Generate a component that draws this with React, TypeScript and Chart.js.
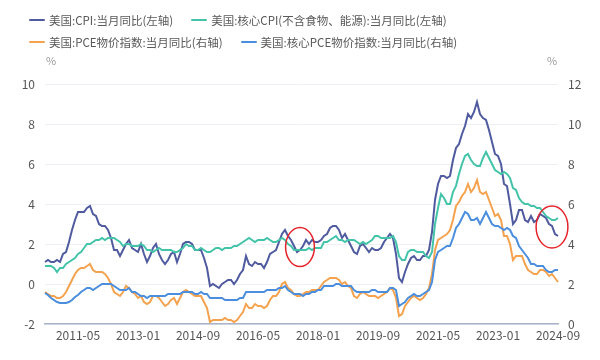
import React, { useEffect, useRef } from "react";
import { Chart, registerables } from "chart.js";

Chart.register(...registerables);

// ---------- data ----------
const START_YEAR = 2010;
const START_MONTH = 6; // 2010-06
const N_MONTHS = 172; // through 2024-09

const months: string[] = [];
for (let i = 0; i < N_MONTHS; i++) {
  const m = START_MONTH - 1 + i;
  const y = START_YEAR + Math.floor(m / 12);
  const mm = (m % 12) + 1;
  months.push(`${y}-${mm < 10 ? "0" + mm : mm}`);
}

const xTickLabels = ["2011-05", "2013-01", "2014-09", "2016-05", "2018-01", "2019-09", "2021-05", "2023-01", "2024-09"];

// 美国:CPI:当月同比 (left axis)
const cpi = [
  1.1, 1.2, 1.1, 1.1, 1.2, 1.1, 1.5,
  1.6, 2.1, 2.7, 3.2, 3.6, 3.6, 3.6, 3.8, 3.9, 3.5, 3.4, 3.0,
  2.9, 2.9, 2.7, 2.3, 1.7, 1.7, 1.4, 1.7, 2.0, 2.2, 1.8, 1.7,
  1.6, 2.0, 1.5, 1.1, 1.4, 1.8, 2.0, 1.5, 1.2, 1.0, 1.2, 1.5,
  1.6, 1.1, 1.5, 2.0, 2.1, 2.1, 2.0, 1.7, 1.7, 1.7, 1.3, 0.8,
  -0.1, 0.0, -0.1, -0.2, 0.0, 0.1, 0.2, 0.2, 0.0, 0.2, 0.5, 0.7,
  1.4, 1.0, 0.9, 1.1, 1.0, 1.0, 0.8, 1.1, 1.5, 1.6, 1.7, 2.1,
  2.5, 2.7, 2.4, 2.2, 1.9, 1.6, 1.7, 1.9, 2.2, 2.0, 2.2, 2.1,
  2.1, 2.2, 2.4, 2.5, 2.8, 2.9, 2.9, 2.7, 2.3, 2.5, 2.2, 1.9,
  1.6, 1.5, 1.9, 2.0, 1.8, 1.6, 1.8, 1.7, 1.7, 1.8, 2.1, 2.3,
  2.5, 2.3, 1.5, 0.3, 0.1, 0.6, 1.0, 1.3, 1.4, 1.2, 1.2, 1.4,
  1.4, 1.7, 2.6, 4.2, 5.0, 5.4, 5.4, 5.3, 5.4, 6.2, 6.8, 7.0,
  7.5, 7.9, 8.5, 8.3, 8.6, 9.1, 8.5, 8.3, 8.2, 7.7, 7.1, 6.5,
  6.4, 6.0, 5.0, 4.9, 4.0, 3.0, 3.2, 3.7, 3.7, 3.2, 3.1, 3.4,
  3.1, 3.2, 3.5, 3.4, 3.3, 3.0, 2.9, 2.5, 2.4,
];

// 美国:核心CPI(不含食物、能源):当月同比 (left axis)
const coreCpi = [
  0.9, 0.9, 0.9, 0.8, 0.6, 0.8, 0.8,
  1.0, 1.1, 1.2, 1.3, 1.5, 1.6, 1.8, 2.0, 2.0, 2.1, 2.2, 2.2,
  2.3, 2.2, 2.3, 2.3, 2.3, 2.2, 2.1, 1.9, 2.0, 2.0, 1.9, 1.9,
  1.9, 2.0, 1.9, 1.7, 1.7, 1.6, 1.7, 1.8, 1.7, 1.7, 1.7, 1.7,
  1.6, 1.6, 1.7, 1.8, 2.0, 1.9, 1.9, 1.7, 1.7, 1.8, 1.7, 1.6,
  1.6, 1.7, 1.8, 1.8, 1.7, 1.8, 1.8, 1.8, 1.9, 1.9, 2.0, 2.1,
  2.2, 2.3, 2.2, 2.1, 2.2, 2.2, 2.2, 2.3, 2.2, 2.1, 2.1, 2.2,
  2.3, 2.2, 2.0, 1.9, 1.7, 1.7, 1.7, 1.7, 1.7, 1.8, 1.7, 1.8,
  1.8, 1.8, 2.1, 2.1, 2.2, 2.3, 2.4, 2.2, 2.2, 2.1, 2.2, 2.2,
  2.2, 2.1, 2.0, 2.1, 2.0, 2.1, 2.2, 2.4, 2.4, 2.3, 2.3, 2.3,
  2.3, 2.4, 2.1, 1.4, 1.2, 1.2, 1.6, 1.7, 1.7, 1.6, 1.6, 1.6,
  1.4, 1.3, 1.6, 3.0, 3.8, 4.5, 4.3, 4.0, 4.0, 4.6, 4.9, 5.5,
  6.0, 6.4, 6.5, 6.2, 6.0, 5.9, 5.9, 6.3, 6.6, 6.3, 6.0, 5.7,
  5.6, 5.5, 5.6, 5.5, 5.3, 4.8, 4.7, 4.3, 4.1, 4.0, 4.0, 3.9,
  3.9, 3.8, 3.8, 3.6, 3.4, 3.3, 3.2, 3.2, 3.3,
];

// 美国:PCE物价指数:当月同比 (right axis)
const pce = [
  1.6, 1.5, 1.4, 1.4, 1.3, 1.3, 1.4,
  1.6, 1.9, 2.2, 2.5, 2.7, 2.8, 2.8, 2.9, 3.0, 2.7, 2.6, 2.6,
  2.6, 2.5, 2.3, 2.0, 1.6, 1.5, 1.4, 1.6, 1.9, 1.8, 1.6, 1.5,
  1.3, 1.4, 1.1, 1.0, 1.1, 1.4, 1.4, 1.3, 1.1, 0.9, 1.0, 1.2,
  1.3, 1.0, 1.3, 1.6, 1.7, 1.6, 1.5, 1.4, 1.4, 1.4, 1.1, 0.8,
  0.1, 0.2, 0.2, 0.2, 0.2, 0.3, 0.2, 0.2, 0.1, 0.2, 0.4, 0.6,
  1.0, 0.8, 0.8, 1.0, 0.9, 0.9, 0.8, 0.9, 1.2, 1.4, 1.4, 1.6,
  2.0, 2.1, 1.8, 1.7, 1.5, 1.4, 1.4, 1.5, 1.6, 1.6, 1.7, 1.7,
  1.7, 1.9, 2.1, 2.2, 2.3, 2.3, 2.3, 2.2, 2.0, 2.1, 1.9, 1.8,
  1.4, 1.3, 1.5, 1.6, 1.5, 1.4, 1.4, 1.4, 1.3, 1.4, 1.5, 1.6,
  1.8, 1.7, 1.3, 0.4, 0.5, 0.9, 1.1, 1.3, 1.4, 1.3, 1.2, 1.3,
  1.5, 1.8, 2.5, 3.7, 4.2, 4.3, 4.4, 4.5, 4.7, 5.2, 5.9, 6.1,
  6.4, 6.6, 7.0, 6.6, 6.8, 7.2, 6.6, 6.5, 6.6, 6.2, 5.8, 5.4,
  5.5, 5.2, 4.4, 4.4, 4.0, 3.2, 3.4, 3.4, 3.4, 3.0, 2.7, 2.6,
  2.5, 2.5, 2.7, 2.7, 2.6, 2.4, 2.5, 2.3, 2.1,
];

// 美国:核心PCE物价指数:当月同比 (right axis)
const corePce = [
  1.55, 1.45, 1.3, 1.2, 1.1, 1.05, 1.05,
  1.05, 1.1, 1.2, 1.35, 1.45, 1.6, 1.7, 1.8, 1.8, 1.7, 1.8, 1.9,
  2.0, 2.0, 2.0, 2.0, 1.9, 1.8, 1.7, 1.7, 1.7, 1.8, 1.6, 1.6,
  1.5, 1.4, 1.4, 1.3, 1.4, 1.4, 1.4, 1.4, 1.4, 1.4, 1.5, 1.5,
  1.5, 1.5, 1.5, 1.6, 1.6, 1.6, 1.6, 1.5, 1.5, 1.6, 1.5, 1.5,
  1.3, 1.3, 1.3, 1.3, 1.3, 1.2, 1.2, 1.2, 1.2, 1.2, 1.3, 1.3,
  1.6, 1.6, 1.6, 1.6, 1.6, 1.6, 1.6, 1.7, 1.7, 1.7, 1.7, 1.8,
  1.8, 1.9, 1.7, 1.6, 1.5, 1.5, 1.5, 1.4, 1.5, 1.5, 1.6, 1.6,
  1.7, 1.7, 1.9, 1.9, 1.9, 1.9, 2.0, 2.0, 1.9, 1.9, 1.9, 1.9,
  1.7, 1.6, 1.6, 1.6, 1.6, 1.6, 1.7, 1.7, 1.6, 1.6, 1.6, 1.6,
  1.8, 1.8, 1.7, 0.9, 1.0, 1.1, 1.3, 1.4, 1.5, 1.4, 1.4, 1.5,
  1.6, 1.7, 2.1, 3.2, 3.6, 3.7, 3.8, 3.9, 3.9, 4.3, 4.8, 5.0,
  5.3, 5.6, 5.5, 5.2, 5.2, 5.3, 5.0, 5.3, 5.6, 5.3, 5.0, 4.9,
  4.9, 4.8, 4.7, 4.8, 4.7, 4.4, 4.3, 3.9, 3.7, 3.5, 3.3, 3.0,
  3.0, 2.9, 2.9, 2.9, 2.7, 2.6, 2.6, 2.7, 2.7,
];

const seriesNames = [
  "美国:CPI:当月同比(左轴)",
  "美国:核心CPI(不含食物、能源):当月同比(左轴)",
  "美国:PCE物价指数:当月同比(右轴)",
  "美国:核心PCE物价指数:当月同比(右轴)",
];
const seriesColors = ["#4f5a9f", "#43c4a9", "#f5a24e", "#4a8edd"];

// highlighted regions (red ellipses), in data units
const highlightMonths = ["2017-07", "2024-07"];
const highlightValues = [1.85, 2.85]; // left-axis values
const highlightHalfMonths = [4.8, 5.3];
const highlightHalfValues = [0.98, 1.05];

const FONT = '"Noto Sans CJK SC", "Noto Sans", sans-serif';

const overlayPlugin = {
  id: "overlay",
  afterDatasetsDraw(chart: any) {
    const { ctx, chartArea, scales } = chart;
    const xs = scales.x;
    const ys = scales.y;
    ctx.save();
    ctx.strokeStyle = "#e5242a";
    ctx.lineWidth = 1.5;
    highlightMonths.forEach((m, i) => {
      const idx = months.indexOf(m);
      const cx = xs.getPixelForValue(idx);
      const cy = ys.getPixelForValue(highlightValues[i]);
      const rx = Math.abs(xs.getPixelForValue(idx + highlightHalfMonths[i]) - cx);
      const ry = Math.abs(ys.getPixelForValue(highlightValues[i] + highlightHalfValues[i]) - cy);
      ctx.beginPath();
      ctx.ellipse(cx, cy, rx, ry, 0, 0, Math.PI * 2);
      ctx.stroke();
    });
    ctx.fillStyle = "#9a9a9a";
    ctx.font = `11px ${FONT}`;
    ctx.textAlign = "center";
    ctx.textBaseline = "middle";
    ctx.fillText("%", chartArea.left + 6, chartArea.top - 23);
    ctx.fillText("%", chartArea.right - 6, chartArea.top - 23);
    ctx.restore();
  },
};

function ChartCanvas() {
  const ref = useRef<HTMLCanvasElement | null>(null);
  useEffect(() => {
    if (!ref.current) return;
    const series = [cpi, coreCpi, pce, corePce];
    const axes = ["y", "y", "y1", "y1"];
    const chart = new Chart(ref.current, {
      type: "line",
      data: {
        labels: months,
        datasets: series.map((d, i) => ({
          label: seriesNames[i],
          data: d,
          yAxisID: axes[i],
          borderColor: seriesColors[i],
          backgroundColor: seriesColors[i],
          borderWidth: 2,
          pointRadius: 0,
          tension: 0,
          fill: false,
          order: 3 - i,
        })),
      },
      options: {
        responsive: false,
        animation: false,
        devicePixelRatio: 1,
        layout: { padding: { top: 84, left: 0, right: 0, bottom: 0 } },
        plugins: { legend: { display: false }, tooltip: { enabled: false } },
        scales: {
          x: {
            type: "category",
            grid: { display: false, drawTicks: false },
            border: { display: true, color: "#aab3c7", width: 1.5 },
            ticks: {
              autoSkip: false,
              maxRotation: 0,
              minRotation: 0,
              padding: 4,
              color: "#555",
              font: { family: FONT, size: 12 },
              callback: function (this: any, value: any) {
                const lab = months[value as number];
                return xTickLabels.includes(lab) ? lab : null;
              },
            },
            afterFit: (s: any) => {
              s.height = 36;
            },
          },
          y: {
            position: "left",
            min: -2,
            max: 10,
            ticks: { stepSize: 2, padding: 10, color: "#555", font: { family: FONT, size: 12 } },
            grid: { color: "#eef0f5", drawTicks: false, lineWidth: 1 },
            border: { display: false },
            afterFit: (s: any) => {
              s.width = 45;
            },
          },
          y1: {
            position: "right",
            min: 0,
            max: 12,
            ticks: { stepSize: 2, padding: 10, color: "#555", font: { family: FONT, size: 12 } },
            grid: { display: false, drawTicks: false },
            border: { display: false },
            afterFit: (s: any) => {
              s.width = 42;
            },
          },
        },
      },
      plugins: [overlayPlugin],
    } as any);
    return () => chart.destroy();
  }, []);
  return <canvas ref={ref} width={600} height={360} style={{ position: "absolute", left: 0, top: 0 }} />;
}

function Legend() {
  const rows = [
    [0, 1],
    [2, 3],
  ];
  return (
    <div style={{ position: "absolute", left: 29, top: 11, fontFamily: FONT }}>
      {rows.map((r, ri) => (
        <div key={ri} style={{ display: "flex", alignItems: "center", height: 18, marginBottom: 4 }}>
          {r.map((i) => (
            <div key={i} style={{ display: "flex", alignItems: "center", marginRight: 18 }}>
              <span
                style={{
                  display: "inline-block",
                  width: 16,
                  height: 2.5,
                  background: seriesColors[i],
                  marginRight: 4,
                  borderRadius: 1,
                }}
              />
              <span style={{ fontSize: 11.5, color: "#595959", whiteSpace: "nowrap", lineHeight: "18px" }}>
                {seriesNames[i]}
              </span>
            </div>
          ))}
        </div>
      ))}
    </div>
  );
}

export default function App() {
  return (
    <div
      style={{
        position: "fixed",
        left: 0,
        top: 0,
        width: 600,
        height: 360,
        background: "#fff",
        overflow: "hidden",
      }}
    >
      <ChartCanvas />
      <Legend />
    </div>
  );
}
